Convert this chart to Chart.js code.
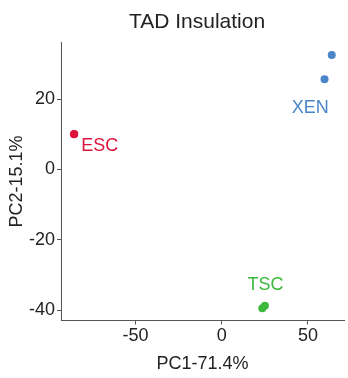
<!DOCTYPE html>
<html><head><meta charset="utf-8">
<script src="https://cdn.jsdelivr.net/npm/chart.js@4"></script>
<style>html,body{margin:0;padding:0;background:#fff}#wrap{width:348px;height:378px}</style>
</head><body><div id="wrap"><canvas id="c" width="348" height="378"></canvas></div>
<script>
const titleText = 'TAD Insulation';
const xTitle = 'PC1-71.4%';
const yTitle = 'PC2-15.1%';
const groups = ['ESC', 'XEN', 'TSC'];
const groupColors = ['#DC143C', '#4A86C8', '#3CB83C'];
const escX = [-85.8, -85.6];
const escY = [10.0, 10.1];
const xenX = [63.8, 59.6];
const xenY = [32.5, 25.6];
const tscX = [23.5, 25.0];
const tscY = [-39.4, -38.7];
const labelX = [-70.8, 51.3, 25.4];
const labelY = [6.6, 17.4, -32.9];
const xTicks = [-50, 0, 50];
const yTicks = [-40, -20, 0, 20];

const toPts = (xs, ys) => xs.map((x, i) => ({x, y: ys[i]}));
const seriesX = [escX, xenX, tscX];
const seriesY = [escY, xenY, tscY];

const labelPlugin = {
  id: 'labels',
  afterDatasetsDraw(chart) {
    const {ctx, scales: {x, y}} = chart;
    ctx.save();
    ctx.font = '18px Arial, "Liberation Sans", sans-serif';
    ctx.textAlign = 'center';
    ctx.textBaseline = 'middle';
    groups.forEach((g, i) => {
      ctx.fillStyle = groupColors[i];
      ctx.fillText(g, x.getPixelForValue(labelX[i]), y.getPixelForValue(labelY[i]));
    });
    ctx.restore();
  },
  afterDraw(chart) {
    const {ctx} = chart;
    ctx.save();
    ctx.font = '21px Arial, "Liberation Sans", sans-serif';
    ctx.fillStyle = '#222';
    ctx.textAlign = 'center';
    ctx.textBaseline = 'alphabetic';
    ctx.fillText(titleText, 197, 27.5);
    ctx.restore();
  }
};

new Chart(document.getElementById('c'), {
  type: 'scatter',
  data: {
    datasets: groups.map((g, i) => ({
      label: g,
      data: toPts(seriesX[i], seriesY[i]),
      backgroundColor: groupColors[i],
      borderColor: groupColors[i],
      borderWidth: 0,
      pointRadius: 4,
      pointHoverRadius: 4
    }))
  },
  options: {
    responsive: false,
    animation: false,
    events: [],
    layout: {padding: {top: 42.7, right: 2.3, left: 0, bottom: 0}},
    plugins: {legend: {display: false}, tooltip: {enabled: false}, title: {display: false}},
    scales: {
      x: {
        type: 'linear', min: -93.3, max: 70.9,
        afterFit: s => { s.height = 57.5; },
        afterBuildTicks: s => { s.ticks = xTicks.map(v => ({value: v})); },
        grid: {drawOnChartArea: false, drawTicks: true, tickLength: 4, color: '#555', tickWidth: 1},
        border: {display: true, color: '#555', width: 1},
        ticks: {color: '#222', padding: 1, font: {family: 'Arial, "Liberation Sans", sans-serif', size: 18}, maxRotation: 0},
        title: {display: true, text: xTitle, color: '#222', font: {family: 'Arial, "Liberation Sans", sans-serif', size: 18}, padding: {top: 0, bottom: 3}}
      },
      y: {
        type: 'linear', min: -42.9, max: 36,
        afterFit: s => { s.width = 61; },
        afterBuildTicks: s => { s.ticks = yTicks.map(v => ({value: v})); },
        grid: {drawOnChartArea: false, drawTicks: true, tickLength: 4, color: '#555', tickWidth: 1},
        border: {display: true, color: '#555', width: 1},
        ticks: {color: '#222', padding: 2, font: {family: 'Arial, "Liberation Sans", sans-serif', size: 18}},
        title: {display: true, text: yTitle, color: '#222', font: {family: 'Arial, "Liberation Sans", sans-serif', size: 18}, padding: {top: 6, bottom: 0}}
      }
    }
  },
  plugins: [labelPlugin]
});
</script></body></html>
